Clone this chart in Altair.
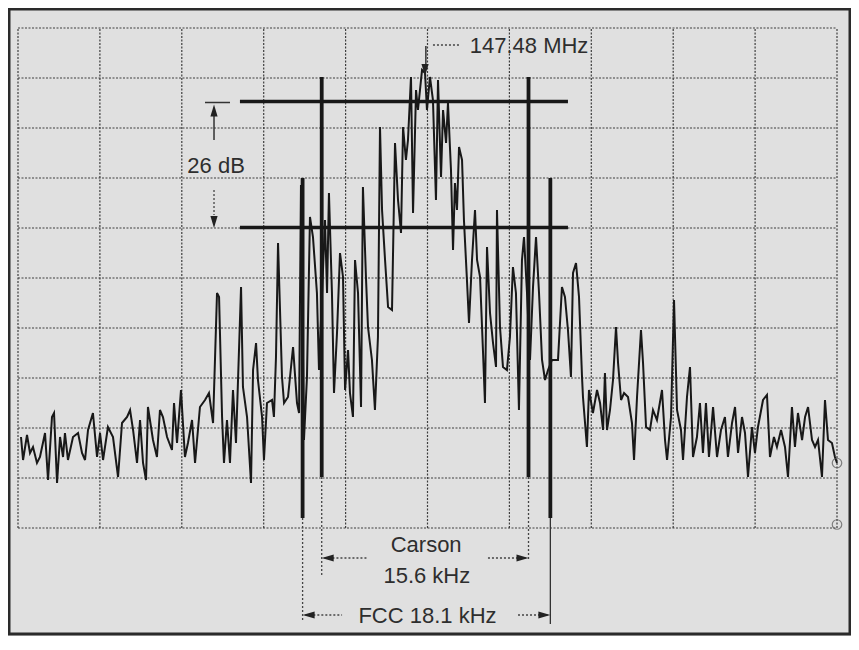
import altair as alt
import pandas as pd

# ---------------- data ----------------
# frequency offset from 147.48 MHz (kHz, 6 kHz/div) and level (dB, 10 dB/div, ref 0 dB at top)
freq_khz = [
    -29.78, -29.63, -29.34, -29.12, -28.90, -28.61, -28.39, -28.02, -27.80, -27.51,
    -27.36, -27.14, -26.92, -26.70, -26.56, -26.34, -25.97, -25.60, -25.31, -25.09,
    -24.87, -24.51, -24.21, -23.99, -23.77, -23.41, -23.04, -22.67, -22.38, -22.01,
    -21.79, -21.57, -21.28, -21.06, -20.84, -20.62, -20.48, -20.11, -19.82,
    -19.60, -19.38, -19.08, -18.72, -18.57, -18.35, -18.06, -17.77, -17.55, -17.25,
    -17.03, -16.67, -16.30, -16.01, -15.71, -15.42, -15.27, -15.05, -14.91, -14.69,
    -14.47, -14.25, -14.03, -13.66, -13.52, -13.22, -12.93, -12.78, -12.56, -12.42,
    -12.12, -11.98, -11.76, -11.39, -11.25, -11.10, -10.95, -10.66, -10.51, -10.22,
    -9.85, -9.56, -9.41,
    -9.27, -9.05, -8.83, -8.61, -8.39, -8.10, -7.95, -7.51, -7.36, -7.22,
    -7.00, -6.85, -6.63, -6.41, -6.19, -6.04, -5.82, -5.68, -5.46, -5.31,
    -5.09, -4.87, -4.73, -4.51, -4.36, -4.07, -3.85, -3.63, -3.48, -3.33,
    -3.11, -2.89, -2.60, -2.38, -2.16, -1.94, -1.79, -1.58, -1.43, -1.21,
    -1.06, -0.84, -0.70, -0.40, -0.18,
    -0.04, 0.18, 0.40, 0.62, 0.77, 0.99, 1.14, 1.36, 1.50, 1.72,
    1.87, 2.01, 2.16, 2.31, 2.53, 2.67, 2.89, 3.04, 3.26, 3.48,
    3.63, 3.85, 4.07, 4.21, 4.36, 4.58, 4.80, 5.02, 5.09, 5.31,
    5.53, 5.82, 6.04, 6.26, 6.48, 6.70, 6.92, 7.07, 7.29, 7.51,
    7.73, 7.95, 8.17, 8.39, 8.61, 8.83, 9.12,
    9.56, 9.85, 10.07, 10.29, 10.51, 10.66, 10.88, 11.10, 11.32, 11.39,
    11.68, 11.83, 12.12, 12.42, 12.64, 12.86, 13.00, 13.15, 13.37, 13.59,
    13.81, 13.96, 14.18, 14.40, 14.69, 14.98, 15.13, 15.35, 15.64, 15.79,
    16.01, 16.30, 16.52, 16.81, 17.18, 17.40, 17.55, 17.84, 18.06, 18.28,
    18.57, 18.72, 19.01, 19.23, 19.45, 19.74,
    19.96, 20.18, 20.40, 20.62, 20.92, 21.21, 21.50, 21.79, 22.01, 22.31,
    22.53, 22.75, 23.04, 23.26, 23.48, 23.77, 23.99, 24.21, 24.58, 24.87,
    25.09, 25.38, 25.60, 25.90, 26.19, 26.41, 26.70, 26.92, 27.14, 27.44,
    27.66, 27.88, 28.17, 28.39, 28.61, 28.90, 29.12, 29.34, 29.63, 29.85, 30.00,
]
level_db = [
    -81.8, -86.4, -81.4, -85.0, -83.8, -87.0, -85.8, -81.0, -90.4, -77.8,
    -77.0, -91.0, -81.8, -85.8, -81.0, -86.4, -81.8, -81.0, -85.0, -86.4,
    -80.4, -77.0, -85.8, -81.0, -86.4, -79.8, -81.8, -89.8, -79.0, -77.8,
    -76.4, -80.4, -87.0, -78.4, -87.0, -90.4, -75.8, -82.4, -85.8,
    -76.4, -77.8, -81.8, -84.4, -75.0, -83.0, -72.4, -85.8, -83.0, -78.4,
    -87.0, -75.8, -74.4, -73.0, -79.0, -53.0, -53.8, -77.8, -87.0, -78.4,
    -87.0, -72.4, -83.0, -51.8, -71.8, -77.8, -91.0, -68.4, -63.0, -70.4,
    -77.8, -86.4, -75.0, -74.4, -77.8, -65.8, -43.0, -69.8, -75.0, -73.8,
    -63.8, -75.0, -77.0,
    -31.4, -82.4, -69.8, -37.8, -41.8, -53.0, -68.4, -38.4, -53.0, -33.0,
    -53.0, -73.0, -61.0, -45.0, -49.8, -72.4, -64.4, -73.0, -77.8, -46.4,
    -53.0, -75.8, -31.8, -49.8, -59.8, -66.4, -76.4, -61.8, -19.8, -36.4,
    -46.4, -55.8, -56.4, -23.0, -34.4, -41.0, -19.8, -26.4, -22.4, -9.8,
    -37.0, -12.4, -16.4, -8.4, -9.0,
    -16.4, -9.8, -14.4, -34.4, -10.4, -29.8, -16.4, -23.0, -15.0, -28.4,
    -44.4, -31.0, -36.4, -23.8, -26.4, -38.4, -50.4, -59.0, -46.4, -36.4,
    -46.4, -49.8, -65.0, -75.0, -43.8, -57.0, -63.0, -67.8, -36.4, -59.8,
    -67.8, -68.4, -61.8, -47.8, -53.0, -76.4, -46.4, -41.8, -53.0, -66.4,
    -51.8, -41.8, -53.0, -66.4, -70.4, -68.4, -66.4,
    -66.4, -51.8, -53.8, -60.4, -69.8, -49.0, -47.0, -53.8, -69.8, -73.8,
    -83.8, -72.4, -77.0, -72.4, -75.0, -80.4, -69.0, -80.4, -76.4, -70.4,
    -59.8, -67.0, -74.4, -73.0, -73.8, -79.0, -86.4, -73.8, -60.4, -67.0,
    -79.8, -80.4, -76.4, -78.4, -72.4, -82.4, -86.4, -77.8, -54.4, -76.4,
    -80.4, -86.4, -73.8, -67.8, -85.8, -81.8,
    -75.0, -85.0, -75.0, -85.8, -75.8, -85.8, -80.4, -77.8, -85.8, -79.0,
    -75.8, -85.0, -77.8, -81.0, -89.8, -79.8, -85.0, -79.8, -74.4, -73.4,
    -85.8, -81.8, -83.8, -80.4, -83.8, -89.8, -75.8, -83.8, -77.0, -82.4,
    -77.8, -75.8, -82.4, -83.8, -82.4, -89.8, -74.4, -82.4, -83.0, -85.8, -87.0,
]

grid_khz = [-30, -24, -18, -12, -6, 0, 6, 12, 18, 24, 30]
grid_db = [-100, -90, -80, -70, -60, -50, -40, -30, -20, -10, 0]

# 26 dB bandwidth reference levels and their extent
ref_levels_db = [-14.7, -39.9]
ref_from_khz = -13.74
ref_to_khz = 10.29

# Carson and FCC bandwidth markers
carson_khz = [-7.75, 7.40]
carson_top_db, carson_bottom_db = -9.8, -89.8
fcc_khz = [-9.15, 9.00]
fcc_top_db, fcc_bottom_db = -30.0, -98.0

# labels
label_text = ["147.48 MHz", "26 dB", "Carson", "15.6 kHz", "FCC 18.1 kHz"]
label_khz = [7.44, -15.49, -0.10, -0.05, 0.0]
label_db = [-3.6, -27.6, -103.4, -109.6, -117.5]

# ---------------- chart ----------------
W, H = 819, 500
xs = alt.Scale(domain=[-30, 30], nice=False, zero=False)
ys = alt.Scale(domain=[-100, 0], nice=False, zero=False)
INK = "#181818"
TXT = "#2e2e2e"
GRID = "#3e3e3e"
FONT = "Liberation Sans"


def X(field):
    return alt.X(field, type="quantitative", scale=xs, axis=None)


def Y(field):
    return alt.Y(field, type="quantitative", scale=ys, axis=None)


# dotted graticule
vgrid_df = pd.DataFrame({"f": grid_khz, "y1": [grid_db[0]] * len(grid_khz),
                         "y2": [grid_db[-1]] * len(grid_khz)})
vgrid = alt.Chart(vgrid_df).mark_rule(color=GRID, strokeWidth=1.2, strokeDash=[2, 1.5]).encode(
    x=X("f"), y=Y("y1"), y2="y2")
hgrid_df = pd.DataFrame({"db": grid_db, "x1": [grid_khz[0]] * len(grid_db),
                         "x2": [grid_khz[-1]] * len(grid_db)})
hgrid = alt.Chart(hgrid_df).mark_rule(color=GRID, strokeWidth=1.2, strokeDash=[2, 1.5]).encode(
    y=Y("db"), x=X("x1"), x2="x2")

trace_df = pd.DataFrame({"f": freq_khz, "db": level_db})
trace = alt.Chart(trace_df).mark_line(color=INK, strokeWidth=2.0).encode(
    x=X("f"), y=Y("db"))

# reference level lines
ref_df = pd.DataFrame({"db": ref_levels_db, "x1": [ref_from_khz] * 2, "x2": [ref_to_khz] * 2})
ref_lines = alt.Chart(ref_df).mark_rule(color=INK, strokeWidth=3.5).encode(
    y=Y("db"), x=X("x1"), x2="x2")

# vertical markers
vm_df = pd.DataFrame({
    "f": carson_khz + fcc_khz,
    "y1": [carson_top_db] * 2 + [fcc_top_db] * 2,
    "y2": [carson_bottom_db] * 2 + [fcc_bottom_db] * 2,
})
v_lines = alt.Chart(vm_df).mark_rule(color=INK, strokeWidth=3.8).encode(
    x=X("f"), y=Y("y1"), y2="y2")

# extensions below plot
ext_dot_df = pd.DataFrame({
    "f": [carson_khz[0], carson_khz[1], fcc_khz[0]],
    "y1": [carson_bottom_db, carson_bottom_db, fcc_bottom_db],
    "y2": [-109.5, -106.5, -118.8],
})
ext_dot = alt.Chart(ext_dot_df).mark_rule(color="#444", strokeWidth=1.3, strokeDash=[2, 2]).encode(
    x=X("f"), y=Y("y1"), y2="y2")
ext_sol_df = pd.DataFrame({"f": [fcc_khz[1]], "y1": [fcc_bottom_db], "y2": [-119.2]})
ext_sol = alt.Chart(ext_sol_df).mark_rule(color="#333", strokeWidth=1.3).encode(
    x=X("f"), y=Y("y1"), y2="y2")

# arrow tails (dotted)
tail_df = pd.DataFrame({
    "x1": [-7.55, 4.43, -8.95, 6.63, 0.40],
    "x2": [-4.43, 7.20, -6.26, 8.80, 2.38],
    "db": [-106.0, -106.0, -117.4, -117.4, -3.4],
})
tails = alt.Chart(tail_df).mark_rule(color="#444", strokeWidth=1.3, strokeDash=[2, 2]).encode(
    x=X("x1"), x2="x2", y=Y("db"))

# 26 dB stems and tick, and the 147.48 MHz pointer stem
stem_df = pd.DataFrame({"f": [-15.64, -0.12], "y1": [-17.4, -3.6], "y2": [-22.4, -7.4]})
stems = alt.Chart(stem_df).mark_rule(color="#333", strokeWidth=1.5).encode(
    x=X("f"), y=Y("y1"), y2="y2")
stem_dot_df = pd.DataFrame({"f": [-15.64], "y1": [-32.4], "y2": [-37.4]})
stem_dot = alt.Chart(stem_dot_df).mark_rule(color="#444", strokeWidth=1.3, strokeDash=[2, 2]).encode(
    x=X("f"), y=Y("y1"), y2="y2")
tick_df = pd.DataFrame({"x1": [-16.30], "x2": [-14.47], "db": [-14.9]})
tick = alt.Chart(tick_df).mark_rule(color="#333", strokeWidth=1.5).encode(
    x=X("x1"), x2="x2", y=Y("db"))

# arrow heads
LEFT = "M0,0L2,-0.6L2,0.6Z"
RIGHT = "M0,0L-2,-0.6L-2,0.6Z"
UP = "M0,0L-0.6,2L0.6,2Z"
DOWN = "M0,0L-0.6,-2L0.6,-2Z"


def heads(fx, fy, shape):
    d = pd.DataFrame({"f": fx, "db": fy})
    return alt.Chart(d).mark_point(shape=shape, filled=True, size=144, color="#222",
                                   opacity=1).encode(x=X("f"), y=Y("db"))


h_left = heads([-7.75, -9.15], [-106.0, -117.4], LEFT)
h_right = heads([7.40, 9.00], [-106.0, -117.4], RIGHT)
h_up = heads([-15.64], [-15.3], UP)
h_down = heads([-15.64, -0.18], [-40.0, -9.6], DOWN)

# little circles at the trace end / corner
circ_df = pd.DataFrame({"f": [30.0, 30.0], "db": [-87.0, -99.3]})
circles = alt.Chart(circ_df).mark_point(shape="circle", filled=False, size=90,
                                        color="#555", strokeWidth=1.2).encode(
    x=X("f"), y=Y("db"))

# labels
lab_df = pd.DataFrame({"t": label_text, "f": label_khz, "db": label_db})
labels = alt.Chart(lab_df).mark_text(font=FONT, fontSize=22, color=TXT,
                                     align="center", baseline="middle").encode(
    x=X("f"), y=Y("db"), text="t:N")

# outer frame of the scanned figure
frame = alt.Chart(pd.DataFrame({"k": [0]})).mark_rect(
    fill=None, stroke="#2a2a2a", strokeWidth=3).encode(
    x=alt.value(-9), x2=alt.value(832), y=alt.value(-19), y2=alt.value(606))

chart = alt.layer(
    frame, vgrid, hgrid, trace, ref_lines, v_lines, ext_dot, ext_sol, tails, stems,
    stem_dot, tick, h_left, h_right, h_up, h_down, circles, labels,
).properties(
    width=W, height=H,
    autosize="none",
    padding={"left": 10, "top": 20, "right": 14, "bottom": 108},
    background="#e0e0e0",
).configure_view(stroke=None)

chart.save("out.html", embed_options={"renderer": "svg", "actions": False})
